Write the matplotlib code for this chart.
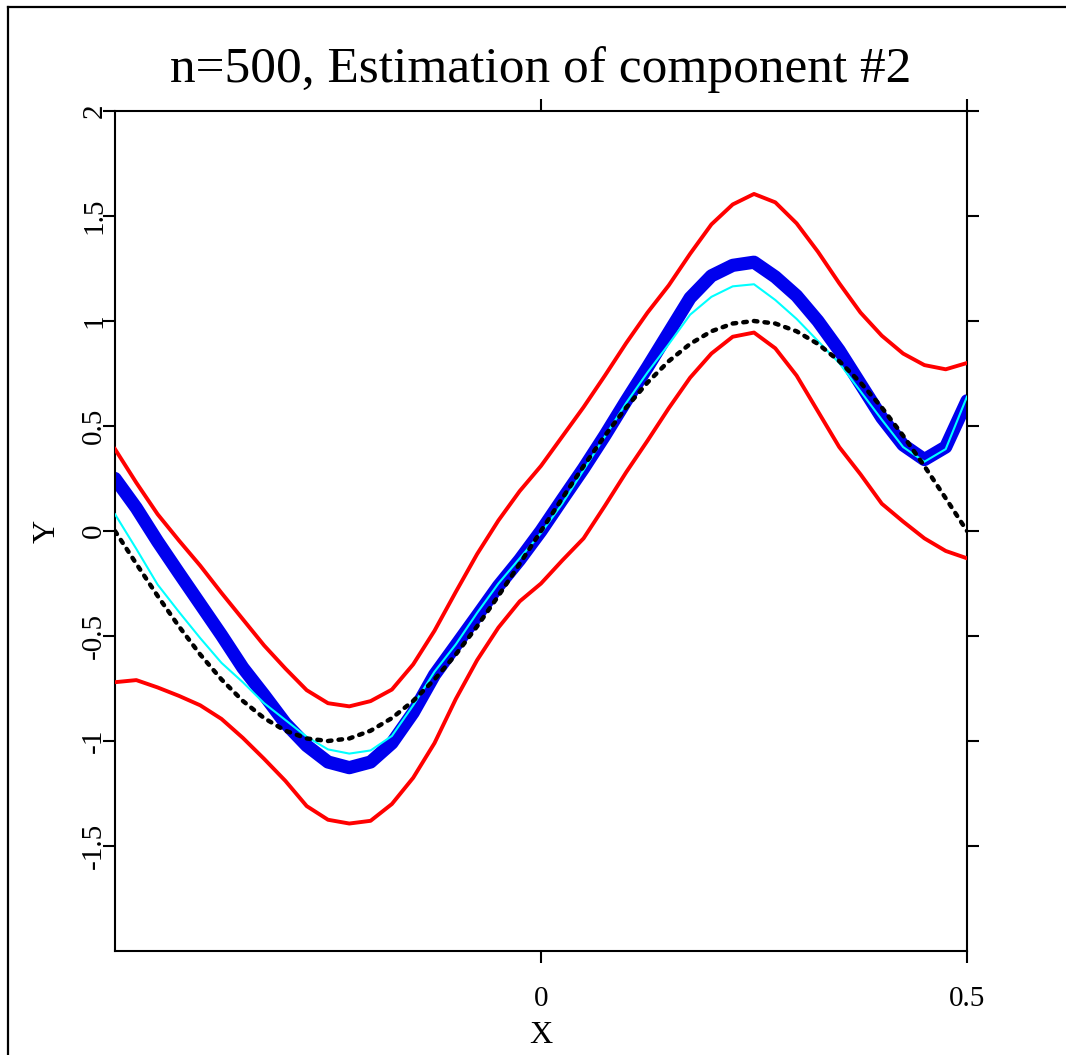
import numpy as np
import matplotlib
matplotlib.use("Agg")
import matplotlib.pyplot as plt
from matplotlib.lines import Line2D

plt.rcParams['font.family'] = ['Liberation Serif', 'DejaVu Serif']

# grid of x positions where the curves were read
x_grid = [-0.5, -0.475, -0.45, -0.425, -0.4, -0.375, -0.35, -0.325, -0.3, -0.275,
          -0.25, -0.225, -0.2, -0.175, -0.15, -0.125, -0.1, -0.075, -0.05, -0.025,
          0.0, 0.025, 0.05, 0.075, 0.1, 0.125, 0.15, 0.175, 0.2, 0.225,
          0.25, 0.275, 0.3, 0.325, 0.35, 0.375, 0.4, 0.425, 0.45, 0.475, 0.5]

# true component (black dotted)
y_true = [0.0, -0.156, -0.309, -0.454, -0.588, -0.707, -0.809, -0.891, -0.951, -0.988,
          -1.0, -0.988, -0.951, -0.891, -0.809, -0.707, -0.588, -0.454, -0.309, -0.156,
          0.0, 0.156, 0.309, 0.454, 0.588, 0.707, 0.809, 0.891, 0.951, 0.988,
          1.0, 0.988, 0.951, 0.891, 0.809, 0.707, 0.588, 0.454, 0.309, 0.156, 0.0]

# estimate (thick blue)
y_est = [0.25, 0.11, -0.05, -0.20, -0.348, -0.496, -0.651, -0.781, -0.916, -1.022,
         -1.10, -1.127, -1.10, -1.01, -0.865, -0.685, -0.545, -0.404, -0.262, -0.137,
         0.0, 0.15, 0.298, 0.455, 0.62, 0.78, 0.945, 1.11, 1.215, 1.265,
         1.28, 1.21, 1.12, 1.0, 0.86, 0.70, 0.54, 0.41, 0.34, 0.40, 0.62]

# second estimate (thin cyan)
y_alt = [0.08, -0.085, -0.255, -0.385, -0.51, -0.628, -0.72, -0.82, -0.90, -0.98,
         -1.04, -1.06, -1.045, -0.976, -0.83, -0.67, -0.54, -0.39, -0.25, -0.13,
         -0.01, 0.13, 0.29, 0.45, 0.61, 0.755, 0.89, 1.03, 1.115, 1.165,
         1.175, 1.10, 1.01, 0.905, 0.80, 0.665, 0.53, 0.40, 0.33, 0.39, 0.64]

# confidence band (red)
y_upper = [0.39, 0.23, 0.08, -0.045, -0.165, -0.295, -0.42, -0.545, -0.655, -0.758,
           -0.82, -0.835, -0.81, -0.755, -0.635, -0.475, -0.29, -0.11, 0.05, 0.19,
           0.31, 0.45, 0.59, 0.74, 0.895, 1.04, 1.17, 1.32, 1.46, 1.555,
           1.605, 1.565, 1.465, 1.33, 1.18, 1.04, 0.93, 0.845, 0.79, 0.77, 0.80]
y_lower = [-0.72, -0.71, -0.745, -0.785, -0.83, -0.895, -0.985, -1.085, -1.19, -1.31,
           -1.375, -1.393, -1.38, -1.30, -1.175, -1.01, -0.80, -0.615, -0.46, -0.335,
           -0.25, -0.14, -0.035, 0.12, 0.28, 0.43, 0.585, 0.73, 0.845, 0.925,
           0.945, 0.87, 0.74, 0.57, 0.40, 0.27, 0.13, 0.045, -0.035, -0.095, -0.13]

x_ticks = [0, 0.5]
x_ticklabels = ['0', '0.5']
y_ticks = [-1.5, -1, -0.5, 0, 0.5, 1, 1.5, 2]
y_ticklabels = ['-1.5', '-1', '-0.5', '0', '0.5', '1', '1.5', '2']

W, H = 1066, 1055
fig = plt.figure(figsize=(W / 100, H / 100), dpi=100)
ax = fig.add_axes([115 / W, 1 - 951 / H, (967 - 115) / W, (951 - 111) / H])

ax.plot(x_grid, y_est, color='#0000ee', lw=9.5, solid_capstyle='round',
        solid_joinstyle='round', zorder=2)
ax.plot(x_grid, y_alt, color='cyan', lw=1.5, solid_joinstyle='round', zorder=3)
ax.plot(x_grid, y_true, color='black', lw=3.2, linestyle=(0, (0.8, 1.6)),
        dash_capstyle='round', dash_joinstyle='round', zorder=4)
ax.plot(x_grid, y_upper, color='red', lw=2.8, solid_joinstyle='round', zorder=5)
ax.plot(x_grid, y_lower, color='red', lw=2.8, solid_joinstyle='round', zorder=5)

ax.set_xlim(-0.5, 0.5)
ax.set_ylim(-2, 2)
ax.set_xticks(x_ticks)
ax.set_xticklabels(x_ticklabels, fontsize=21)
ax.set_yticks(y_ticks)
ax.set_yticklabels(y_ticklabels, fontsize=21, rotation=90, va='center')
ax.tick_params(direction='out', length=8.5, width=1.5, top=True, right=True,
               labeltop=False, labelright=False)
ax.tick_params(axis='x', pad=17)
ax.tick_params(axis='y', pad=-3)
for sp in ax.spines.values():
    sp.set_linewidth(1.5)

ax.set_xlabel('X', fontsize=23, labelpad=6)
ax.set_ylabel('Y', fontsize=23, labelpad=14)

fig.text(541 / W, 1 - 82 / H, 'n=500, Estimation of component #2',
         ha='center', va='baseline', fontsize=37)

# outer frame
fig.add_artist(Line2D([8 / W, 8 / W], [0, 1 - 7 / H], color='black', lw=1.6))
fig.add_artist(Line2D([8 / W, 1], [1 - 7 / H, 1 - 7 / H], color='black', lw=1.6))

fig.savefig('out.png', dpi=100)
